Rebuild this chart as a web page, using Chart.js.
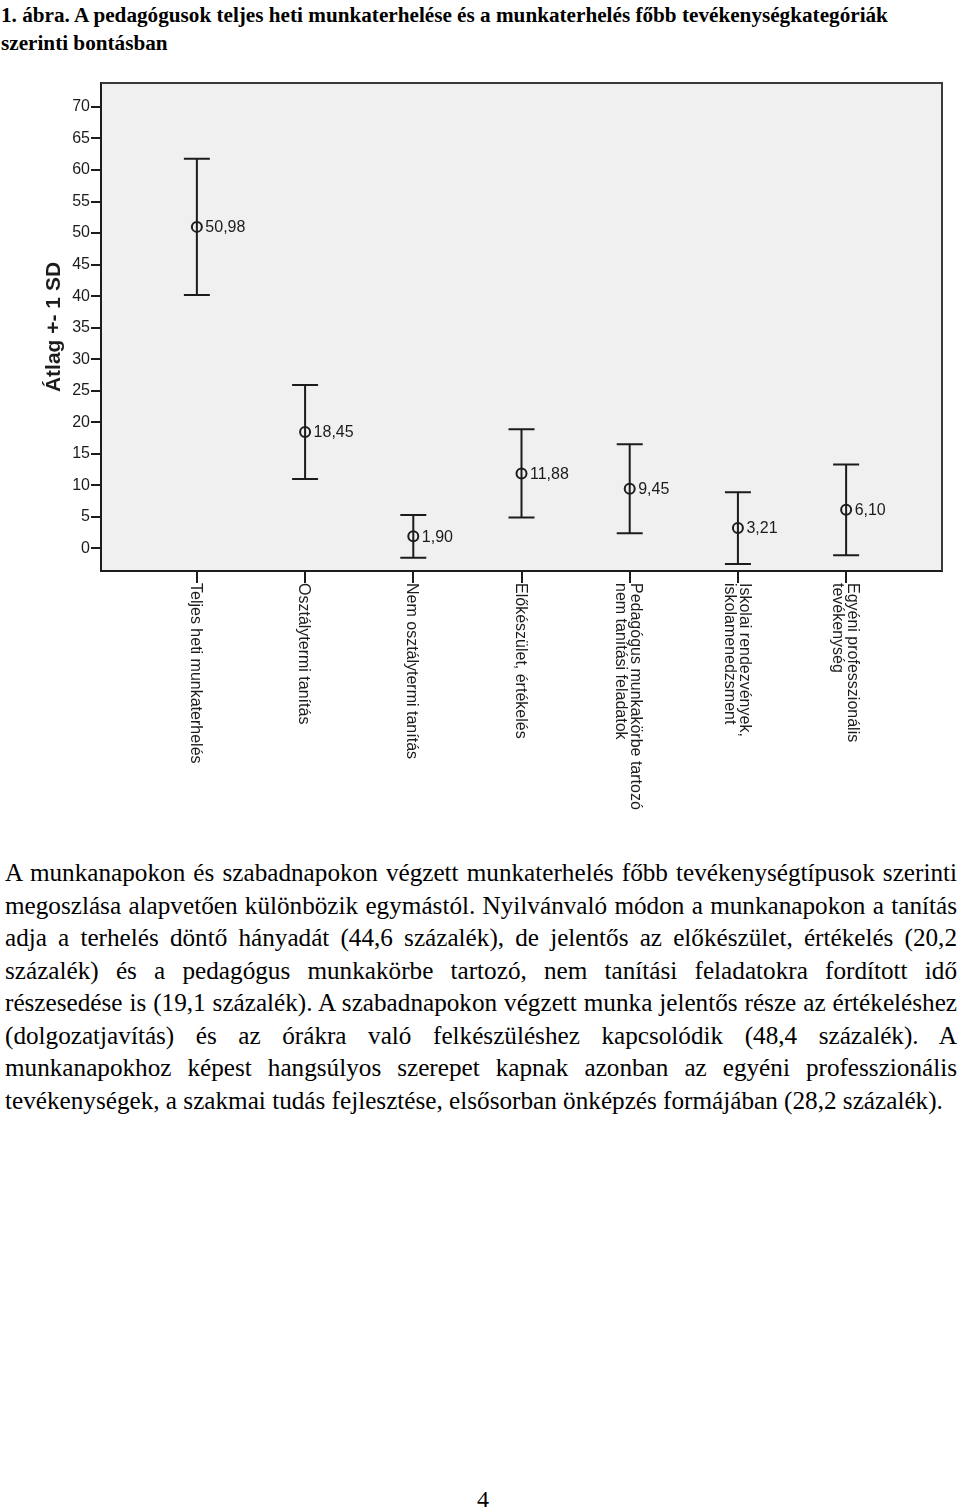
<!DOCTYPE html>
<html>
<head>
<meta charset="utf-8">
<script src="https://cdn.jsdelivr.net/npm/chart.js@4/dist/chart.umd.min.js"></script>
<style>
html,body{margin:0;padding:0;background:#fff;}
body{width:960px;height:1511px;position:relative;overflow:hidden;color:#000;}
#title{position:absolute;left:1px;top:1px;font-family:"Liberation Serif",serif;font-weight:bold;font-size:21.2px;line-height:28px;}
#wrap{position:absolute;left:0;top:60px;width:960px;height:780px;}
#body{position:absolute;left:5px;top:857px;width:952px;font-family:"Liberation Serif",serif;font-size:25.2px;line-height:32.5px;}
#body div{text-align:justify;text-align-last:justify;}
#body div.last{text-align:left;text-align-last:left;}
#page{position:absolute;left:0;width:966px;top:1486px;text-align:center;font-family:"Liberation Serif",serif;font-size:24px;}
</style>
</head>
<body>
<div id="title">1. ábra. A pedagógusok teljes heti munkaterhelése és a munkaterhelés főbb tevékenységkategóriák<br>szerinti bontásban</div>
<div id="wrap"><canvas id="c" width="960" height="780"></canvas></div>
<div id="body">
<div>A munkanapokon és szabadnapokon végzett munkaterhelés főbb tevékenységtípusok szerinti</div>
<div>megoszlása alapvetően különbözik egymástól. Nyilvánvaló módon a munkanapokon a tanítás</div>
<div>adja a terhelés döntő hányadát (44,6 százalék), de jelentős az előkészület, értékelés (20,2</div>
<div>százalék) és a pedagógus munkakörbe tartozó, nem tanítási feladatokra fordított idő</div>
<div>részesedése is (19,1 százalék). A szabadnapokon végzett munka jelentős része az értékeléshez</div>
<div>(dolgozatjavítás) és az órákra való felkészüléshez kapcsolódik (48,4 százalék). A</div>
<div>munkanapokhoz képest hangsúlyos szerepet kapnak azonban az egyéni professzionális</div>
<div class="last">tevékenységek, a szakmai tudás fejlesztése, elsősorban önképzés formájában (28,2 százalék).</div>
</div>
<div id="page">4</div>
<script>
const categories = [
  'Teljes heti munkaterhelés',
  'Osztálytermi tanítás',
  'Nem osztálytermi tanítás',
  'Előkészület, értékelés',
  ['Pedagógus munkakörbe tartozó', 'nem tanítási feladatok'],
  ['Iskolai rendezvények,', 'iskolamenedzsment'],
  ['Egyéni professzionális', 'tevékenység']
];
const means = [50.98, 18.45, 1.90, 11.88, 9.45, 3.21, 6.10];
const sds = [10.8, 7.45, 3.4, 7.0, 7.05, 5.7, 7.2];
const meanLabels = ['50,98', '18,45', '1,90', '11,88', '9,45', '3,21', '6,10'];
const yTicks = [0, 5, 10, 15, 20, 25, 30, 35, 40, 45, 50, 55, 60, 65, 70];
const yTitle = 'Átlag +- 1 SD';

const INK = '#1c1c1c';
const SANS = '"Liberation Sans", Arial, sans-serif';

const bgPlugin = {
  id: 'bg',
  beforeDraw(chart) {
    const a = chart.chartArea, ctx = chart.ctx;
    ctx.save();
    ctx.fillStyle = '#f0f0f0';
    ctx.fillRect(a.left, a.top, a.right - a.left, a.bottom - a.top);
    ctx.restore();
  },
  afterDraw(chart) {
    const a = chart.chartArea, ctx = chart.ctx;
    ctx.save();
    ctx.strokeStyle = '#3a3a3a';
    ctx.lineWidth = 2;
    ctx.beginPath();
    ctx.moveTo(a.left, a.top);
    ctx.lineTo(a.right, a.top);
    ctx.lineTo(a.right, a.bottom);
    ctx.stroke();
    ctx.restore();
  }
};

const errPlugin = {
  id: 'err',
  beforeDatasetsDraw(chart) {
    const xs = chart.scales.x, ys = chart.scales.y, ctx = chart.ctx;
    ctx.save();
    ctx.strokeStyle = INK;
    ctx.lineWidth = 2;
    means.forEach((m, i) => {
      const x = xs.getPixelForValue(i);
      const yT = ys.getPixelForValue(m + sds[i]);
      const yB = ys.getPixelForValue(m - sds[i]);
      ctx.beginPath();
      ctx.moveTo(x, yT); ctx.lineTo(x, yB);
      ctx.moveTo(x - 13, yT); ctx.lineTo(x + 13, yT);
      ctx.moveTo(x - 13, yB); ctx.lineTo(x + 13, yB);
      ctx.stroke();
    });
    ctx.restore();
  },
  afterDatasetsDraw(chart) {
    const xs = chart.scales.x, ys = chart.scales.y, ctx = chart.ctx;
    ctx.save();
    ctx.fillStyle = INK;
    ctx.font = '16px ' + SANS;
    ctx.textAlign = 'left';
    ctx.textBaseline = 'middle';
    means.forEach((m, i) => {
      ctx.fillText(meanLabels[i], xs.getPixelForValue(i) + 8.5, ys.getPixelForValue(m) + 1);
    });
    ctx.restore();
  }
};

const catPlugin = {
  id: 'cats',
  afterDraw(chart) {
    const xs = chart.scales.x, ctx = chart.ctx;
    ctx.save();
    ctx.fillStyle = INK;
    ctx.font = '16px ' + SANS;
    ctx.textAlign = 'left';
    ctx.textBaseline = 'middle';
    const lh = 15;
    categories.forEach((lab, i) => {
      const lines = Array.isArray(lab) ? lab : [lab];
      const px = xs.getPixelForValue(i);
      ctx.save();
      ctx.translate(px, xs.top + 12);
      ctx.rotate(Math.PI / 2);
      const n = lines.length;
      lines.forEach((l, k) => {
        const v = (k - (n - 1) / 2) * lh + 1.5;
        ctx.fillText(l, 0, v);
      });
      ctx.restore();
    });
    ctx.restore();
  }
};

new Chart(document.getElementById('c'), {
  type: 'scatter',
  data: {
    datasets: [{
      data: means.map((m, i) => ({ x: i, y: m })),
      pointStyle: 'circle',
      pointRadius: 5,
      pointHoverRadius: 5,
      pointBorderWidth: 2,
      borderColor: INK,
      backgroundColor: 'rgba(0,0,0,0)',
      showLine: false
    }]
  },
  options: {
    responsive: false,
    animation: false,
    events: [],
    layout: { padding: { left: 0, right: 18, top: 23, bottom: 0 } },
    plugins: { legend: { display: false }, tooltip: { enabled: false } },
    scales: {
      x: {
        type: 'linear',
        min: -0.886,
        max: 6.886,
        afterBuildTicks: s => { s.ticks = categories.map((c, i) => ({ value: i })); },
        afterFit: s => { s.height = 269; },
        ticks: { display: false },
        grid: { drawOnChartArea: false, drawTicks: true, tickLength: 12, color: INK, lineWidth: 2 },
        border: { color: INK, width: 2 }
      },
      y: {
        min: -3.6,
        max: 73.8,
        afterBuildTicks: s => { s.ticks = yTicks.map(v => ({ value: v })); },
        afterFit: s => { s.width = 101; },
        ticks: { color: INK, font: { family: SANS, size: 16 }, padding: 1, callback: v => String(v) },
        grid: { drawOnChartArea: false, drawTicks: true, tickLength: 10, color: INK, lineWidth: 2 },
        border: { color: INK, width: 2 },
        title: { display: true, text: yTitle, color: INK, font: { family: SANS, size: 21, weight: 'bold' }, padding: { top: 42, bottom: 0 } }
      }
    }
  },
  plugins: [bgPlugin, errPlugin, catPlugin]
});
</script>
</body>
</html>
